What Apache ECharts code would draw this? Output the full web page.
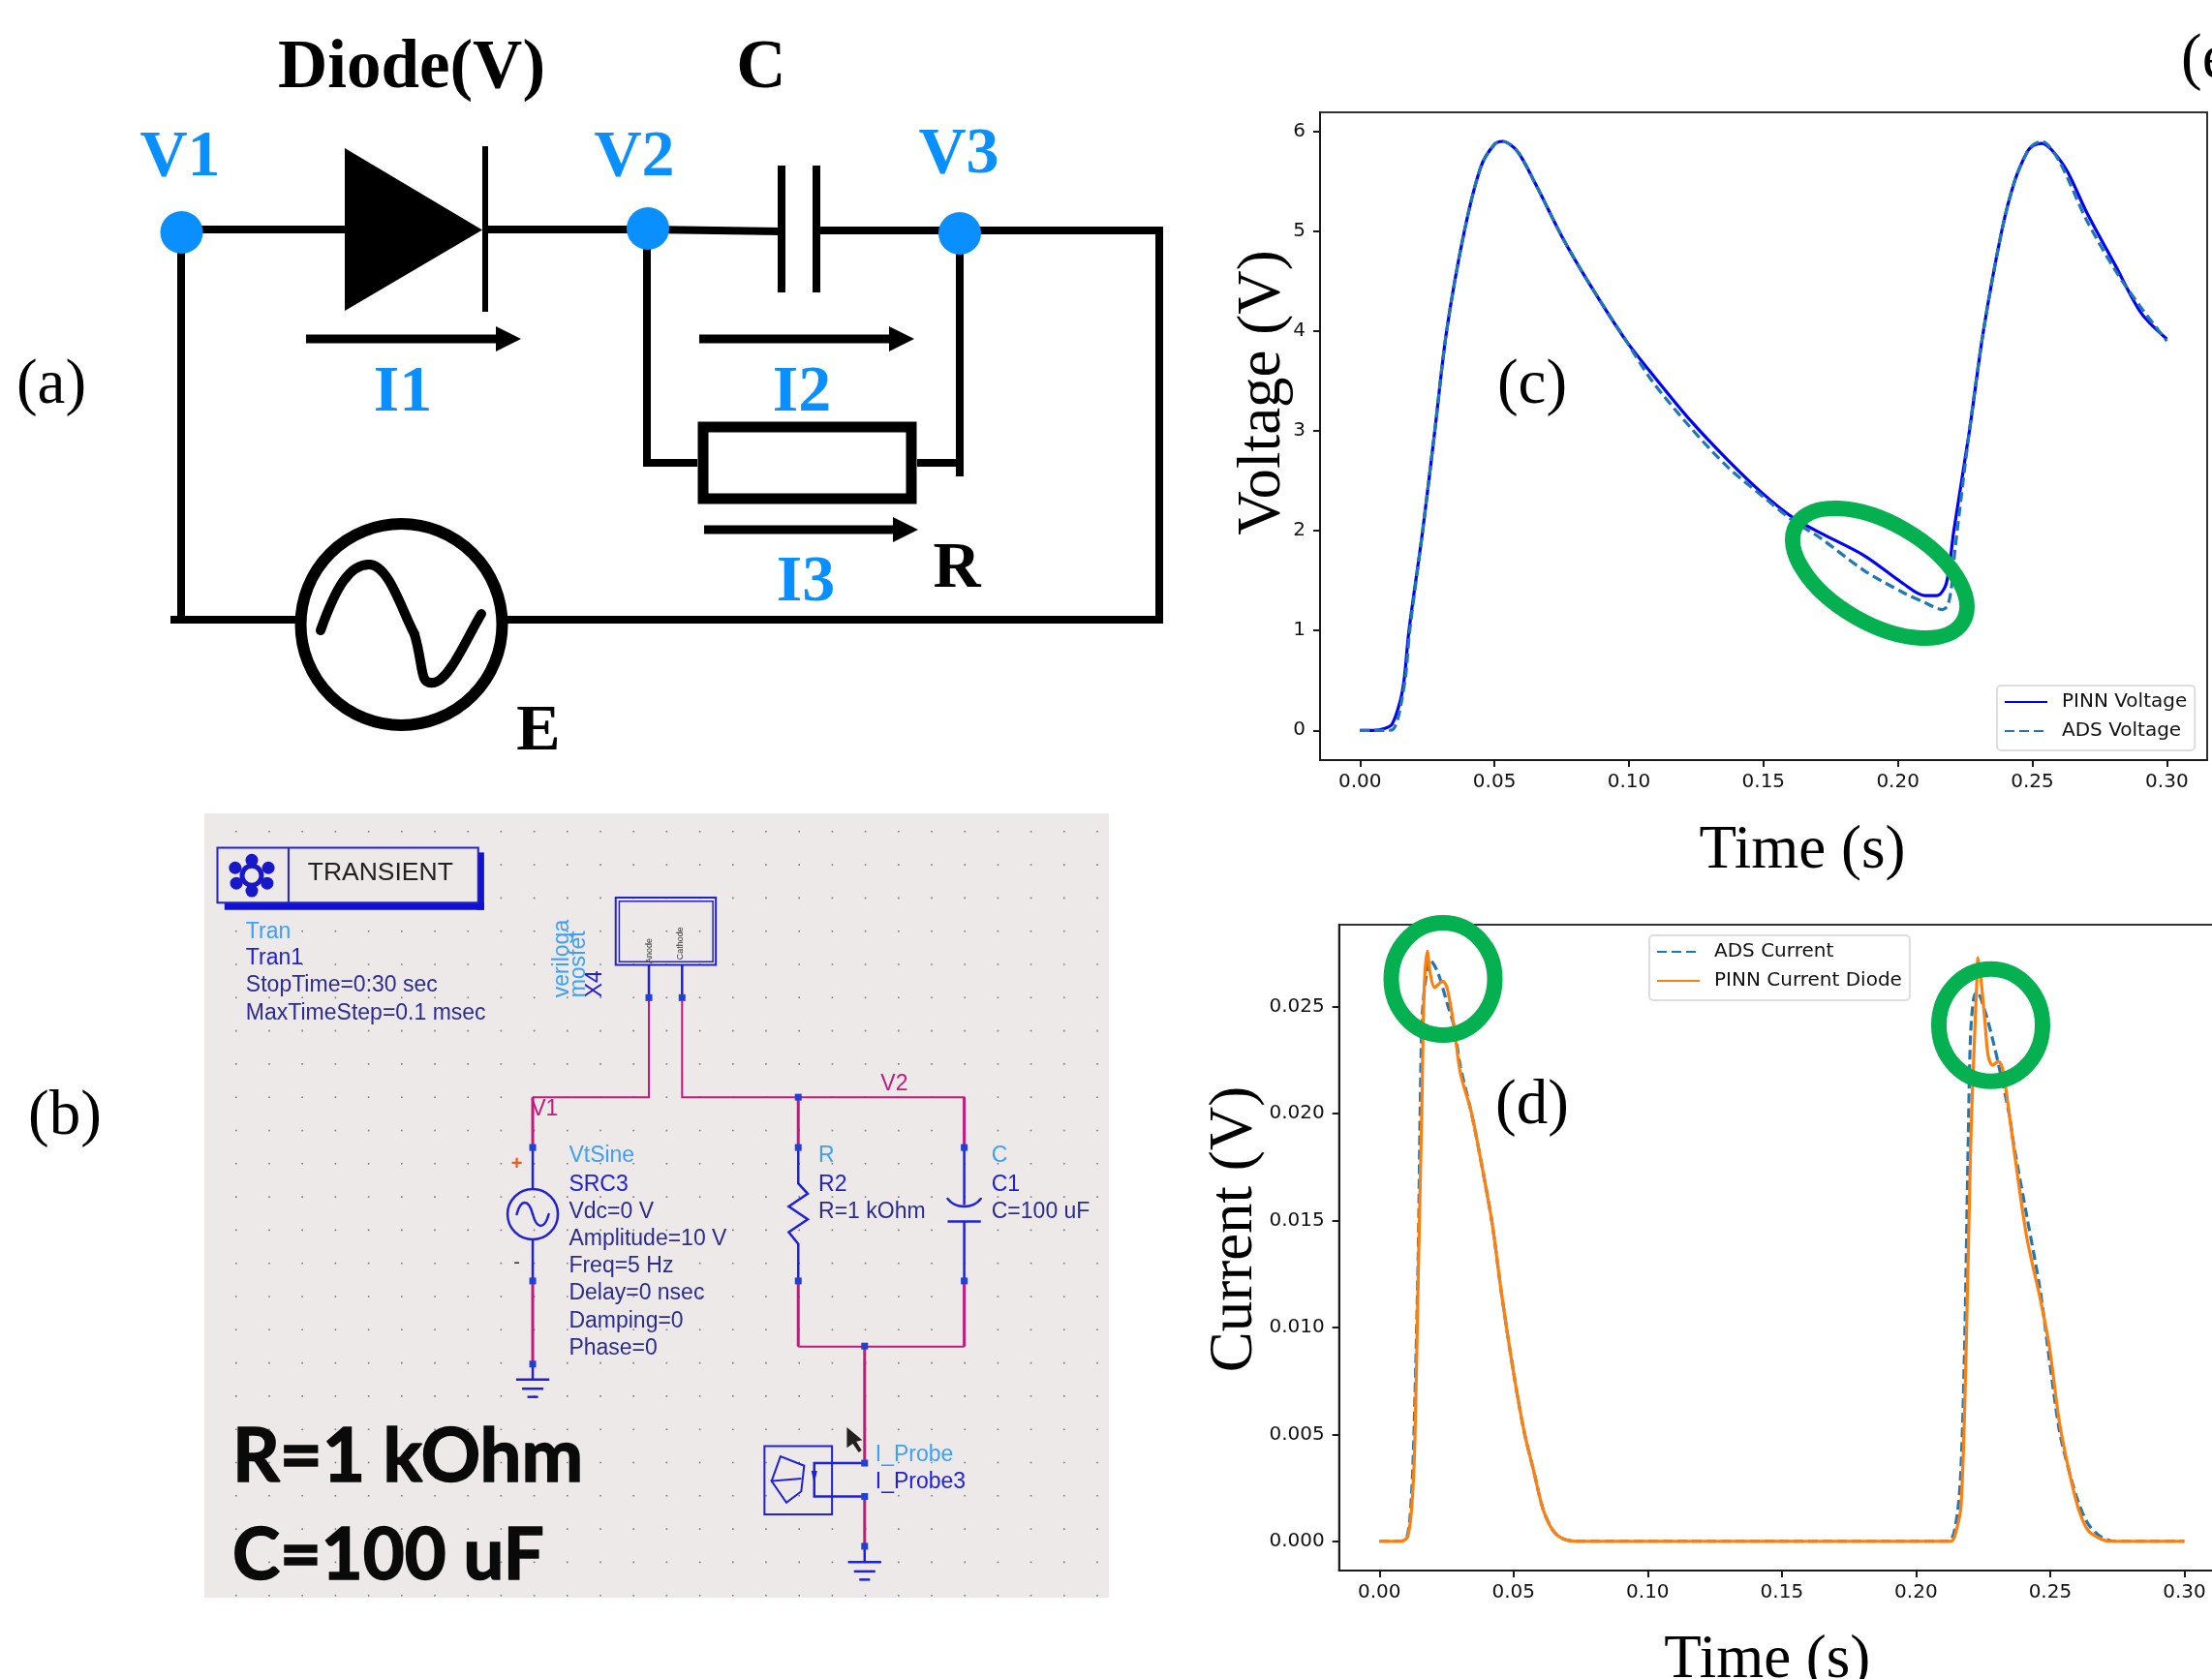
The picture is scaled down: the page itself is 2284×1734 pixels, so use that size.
<!DOCTYPE html>
<html><head><meta charset="utf-8">
<style>html,body{margin:0;padding:0;background:#fff}#c{width:2284px;height:1734px}</style>
<script src="https://cdn.jsdelivr.net/npm/echarts@6/dist/echarts.min.js"></script>
</head><body><div id="c"></div>
<script>
// ---- chart data ----
const xTicks = [0, 0.05, 0.10, 0.15, 0.20, 0.25, 0.30];
const voltageTicks = [0, 1, 2, 3, 4, 5, 6];
const currentTicks = [0, 0.005, 0.010, 0.015, 0.020, 0.025];

const pinnVoltageT = [0,0.005,0.0093,0.0119,0.015,0.0165,0.0182,0.0233,0.0278,0.0322,0.0388,0.045,0.05,0.053,0.0585,0.0655,0.075,0.0847,0.099,0.1086,0.123,0.137,0.149,0.161,0.171,0.1875,0.202,0.21,0.2145,0.218,0.2208,0.2266,0.2318,0.2386,0.2434,0.2482,0.2505,0.2535,0.257,0.263,0.27,0.281,0.2905,0.3];
const pinnVoltageV = [0,0,0.02,0.06,0.30,0.53,1,2,3,4,5,5.65,5.87,5.9,5.8,5.46,4.95,4.5,3.9,3.57,3.1,2.7,2.39,2.13,1.98,1.75,1.47,1.35,1.35,1.47,2,3,4,5,5.5,5.8,5.86,5.88,5.82,5.6,5.2,4.65,4.18,3.92];
const adsVoltageT = [0,0.005,0.0100,0.0123,0.014,0.0153,0.0170,0.0185,0.0233,0.0278,0.0322,0.0388,0.045,0.05,0.053,0.0585,0.0655,0.075,0.0847,0.099,0.1086,0.123,0.137,0.149,0.161,0.171,0.1875,0.202,0.21,0.2165,0.2185,0.22,0.2212,0.2266,0.2318,0.2386,0.2434,0.2482,0.2505,0.2535,0.26,0.27,0.281,0.29,0.3];
const adsVoltageV = [0,0,0,0.01,0.11,0.27,0.55,1,2,3,4,5,5.65,5.87,5.9,5.8,5.46,4.95,4.5,3.9,3.5,3.03,2.63,2.36,2.1,1.93,1.6,1.38,1.28,1.21,1.25,1.45,1.8,3,4,5,5.5,5.8,5.87,5.9,5.7,5.12,4.6,4.25,3.9];

const adsCurrentT = [0,0.008,0.0105,0.012,0.013,0.0145,0.0152,0.016,0.0175,0.0188,0.0218,0.0254,0.0278,0.0302,0.0342,0.038,0.042,0.0454,0.05,0.054,0.0575,0.061,0.0647,0.068,0.073,0.1,0.15,0.212,0.2145,0.2165,0.218,0.2194,0.2203,0.2215,0.2227,0.2257,0.2287,0.2311,0.2347,0.2365,0.2413,0.2462,0.2497,0.2534,0.257,0.2606,0.2642,0.269,0.274,0.3];
const adsCurrentI = [0,0,0.0003,0.0022,0.0055,0.0135,0.0201,0.0246,0.0265,0.0272,0.0266,0.0251,0.0241,0.0222,0.0201,0.0177,0.0149,0.0117,0.0079,0.0051,0.0033,0.0015,0.0005,0.00014,0,0,0,0,0.0006,0.0028,0.0085,0.0183,0.0236,0.0254,0.0257,0.0248,0.0234,0.0221,0.02,0.0185,0.0152,0.0118,0.0085,0.0052,0.0033,0.0018,0.0008,0.0002,0,0];
const pinnCurrentT = [0,0.008,0.0105,0.012,0.0132,0.0144,0.0158,0.01667,0.01786,0.01905,0.0206,0.0236,0.0252,0.0278,0.0302,0.0342,0.038,0.042,0.0454,0.05,0.054,0.0575,0.061,0.0647,0.068,0.073,0.1,0.15,0.213,0.215,0.2168,0.2185,0.2203,0.2211,0.2227,0.2231,0.2242,0.2257,0.2269,0.2285,0.2307,0.2322,0.234,0.2367,0.2413,0.2462,0.2497,0.2534,0.257,0.2606,0.2642,0.269,0.272,0.3];
const pinnCurrentI = [0,0,0.0002,0.0015,0.0045,0.0119,0.0201,0.0257,0.0276,0.0265,0.0259,0.0262,0.0259,0.0241,0.0219,0.0201,0.0177,0.0149,0.0117,0.0079,0.0051,0.0033,0.0015,0.0005,0.00014,0,0,0,0,0.0005,0.0017,0.008,0.0182,0.0213,0.0263,0.0273,0.0263,0.0243,0.0227,0.02227,0.02245,0.02213,0.0207,0.01815,0.0142,0.0114,0.0091,0.0056,0.0033,0.0015,0.0005,0.0001,0,0];

const zip = (a, b) => a.map((v, i) => [v, b[i]]);
const BLACK_AXIS = '#1a1a1a', TICK_FONT = 'DejaVu Sans', SERIF = 'Liberation Serif', SANS = 'Liberation Sans';
const BLUE_TXT = '#0a8fff', GREEN = '#05b050';

// ---- drawing helpers for the schematics ----
const gfx = [];
const S = (stroke, w, extra) => Object.assign({ stroke, lineWidth: w, fill: 'none' }, extra || {});
const poly = (pts, c, w, z) => gfx.push({ type: 'polyline', shape: { points: pts }, style: S(c, w, { lineJoin: 'miter' }), z: z || 10 });
const fillPoly = (pts, c) => gfx.push({ type: 'polygon', shape: { points: pts }, style: { fill: c }, z: 10 });
const dot = (x, y, r, c) => gfx.push({ type: 'circle', shape: { cx: x, cy: y, r }, style: { fill: c }, z: 12 });
const ring = (x, y, r, c, w) => gfx.push({ type: 'circle', shape: { cx: x, cy: y, r }, style: S(c, w, { fill: 'none' }), z: 11 });
const box = (x, y, w, h, st) => gfx.push({ type: 'rect', shape: { x, y, width: w, height: h }, style: st, z: 9 });
const bez = (p, c, w) => gfx.push({ type: 'bezierCurve', shape: { x1: p[0], y1: p[1], cpx1: p[2], cpy1: p[3], cpx2: p[4], cpy2: p[5], x2: p[6], y2: p[7] }, style: S(c, w, { lineCap: 'round' }), z: 11 });
const txt = (s, x, y, font, fill, align, rot, extra) => gfx.push({ type: 'text', x, y, rotation: rot || 0, z: 20,
  style: Object.assign({ text: s, font, fill, align: align || 'center', textAlign: align || 'center', verticalAlign: 'middle', textVerticalAlign: 'middle' }, extra || {}) });

// ---- panel (a): circuit ----
const W = '#000';
poly([[187, 237], [356, 237]], W, 8);
fillPoly([[356, 153], [356, 321], [498, 237.5]], W);
poly([[501, 151], [501, 322]], W, 6);
poly([[498, 237], [669, 237]], W, 8);
poly([[669, 237], [808, 239]], W, 8);
poly([[807, 171], [807, 302]], W, 8);
poly([[843, 171], [843, 302]], W, 8);
poly([[843, 238], [1197, 238]], W, 8);
poly([[1197, 234], [1197, 644]], W, 8);
poly([[176, 640], [305, 640]], W, 8);
poly([[524, 640], [1201, 640]], W, 8);
poly([[187, 240], [187, 640]], W, 8);
poly([[668, 237], [668, 478], [720, 478]], W, 8);
poly([[947, 478], [991, 478]], W, 8);
poly([[991, 241], [991, 492]], W, 8);
gfx.push({ type: 'rect', shape: { x: 726, y: 441, width: 215, height: 74 }, style: S(W, 11), z: 10 });
ring(414.5, 645, 104, W, 12);
bez([331, 651, 347, 606, 361, 583, 381, 583], W, 10);
bez([381, 583, 401, 583, 414, 628, 428, 655], W, 10);
bez([428, 655, 438, 690, 433, 707, 447, 705], W, 10);
bez([447, 705, 463, 705, 483, 657, 497, 634], W, 10);
dot(187.5, 240, 22, '#0a8fff'); dot(669, 236, 22, '#0a8fff'); dot(991, 241, 22, '#0a8fff');
const arrow = (x0, x1, y) => { poly([[x0, y], [x1 - 22, y]], W, 9); fillPoly([[x1 - 26, y - 13], [x1, y], [x1 - 26, y + 13]], W); };
arrow(316, 538, 350); arrow(722, 944, 350); arrow(727, 948, 547);
const BOLD68 = 'bold 68px "' + SERIF + '"';
txt('Diode(V)', 425, 72, 'bold 71px "' + SERIF + '"', '#000');
txt('C', 786, 72, 'bold 71px "' + SERIF + '"', '#000');
txt('V1', 186, 163, BOLD68, BLUE_TXT); txt('V2', 655, 163, BOLD68, BLUE_TXT); txt('V3', 990, 160, BOLD68, BLUE_TXT);
txt('I1', 416, 406, BOLD68, BLUE_TXT); txt('I2', 828, 406, BOLD68, BLUE_TXT); txt('I3', 832, 602, BOLD68, BLUE_TXT);
txt('R', 988, 588, BOLD68, '#000'); txt('E', 556, 756, BOLD68, '#000');
const PANEL = '65px "' + SERIF + '"';
txt('(a)', 53, 399, PANEL, '#000'); txt('(b)', 67, 1154, PANEL, '#000');
txt('(c)', 1582, 399, PANEL, '#000'); txt('(d)', 1582, 1143, PANEL, '#000');
txt('(e)', 2252, 63, PANEL, '#000', 'left');

// ---- panel (b): ADS schematic ----
const X = z => 200 + 0.612 * z, Y = z => 830 + 0.53 * z;
const P = (pts) => pts.map(p => [X(p[0]), Y(p[1])]);
const BL = '#2020d8', PK = '#c4187e', NAVY = '#2b2b90', LIGHT = '#3d9ff5';
const zpoly = (pts, c, w) => poly(P(pts), c, w || 2.5, 14);
box(211, 840, 934, 810, { fill: '#ede9e8' });
for (let gx = 243; gx < 1145; gx += 34.2) for (let gy = 858; gy < 1648; gy += 34.3) {
  gfx.push({ type: 'rect', shape: { x: gx, y: gy, width: 1.6, height: 1.6 }, style: { fill: '#77777c' }, z: 9 });
}
// transient block
const zbox = (x0, y0, x1, y1, st, z) => gfx.push({ type: 'rect', shape: { x: X(x0), y: Y(y0), width: X(x1) - X(x0), height: Y(y1) - Y(y0) }, style: st, z: z || 13 });
zbox(52, 193, 490, 207, { fill: '#1010d0' }); zbox(478, 95, 490, 207, { fill: '#1010d0' });
zbox(40, 86, 480, 193, { fill: '#ede9e8', stroke: BL, lineWidth: 2 });
zpoly([[160, 86], [160, 193]], BL, 2);
txt('TRANSIENT', X(315), Y(135), '26.5px "' + SANS + '"', '#222');
[[98, 110], [70, 125], [126, 125], [72, 155], [124, 155], [98, 170]].forEach(c => dot(X(c[0]), Y(c[1]), 6.5, '#1818c8'));
ring(X(98), Y(140), 10, '#1818c8', 5);
gfx.slice(-7).forEach(e => e.z = 15);
const SMALL = '23px "' + SANS + '"';
txt('Tran', X(88), Y(250), SMALL, LIGHT, 'left'); txt('Tran1', X(88), Y(302), SMALL, BL, 'left');
txt('StopTime=0:30 sec', X(88), Y(355), SMALL, NAVY, 'left'); txt('MaxTimeStep=0.1 msec', X(88), Y(408), SMALL, NAVY, 'left');
// device
zbox(712, 183, 881, 314, { fill: 'none', stroke: BL, lineWidth: 2 });
zbox(718, 190, 876, 308, { fill: 'none', stroke: BL, lineWidth: 1.5 });
txt('Anode', X(768), Y(287), '9px "' + SANS + '"', '#333', 'center', Math.PI / 2);
txt('Cathode', X(821), Y(272), '9px "' + SANS + '"', '#333', 'center', Math.PI / 2);
txt('veriloga', X(622), Y(378), SMALL, LIGHT, 'left', Math.PI / 2);
txt('mosfet', X(650), Y(378), SMALL, LIGHT, 'left', Math.PI / 2);
txt('X4', X(677), Y(378), SMALL, BL, 'left', Math.PI / 2);
zpoly([[768, 314], [768, 378]], BL); zpoly([[824, 314], [824, 378]], BL);
zpoly([[768, 378], [768, 572], [572, 572]], PK, 2);
zpoly([[572, 572], [572, 665]], PK, 3);
zpoly([[824, 378], [824, 572], [1300, 572]], PK, 2);
zpoly([[1300, 572], [1300, 665]], PK, 3);
zpoly([[1020, 572], [1020, 665]], PK, 3);
txt('V1', X(592), Y(595), SMALL, PK); txt('V2', X(1182), Y(547), SMALL, PK);
// source
zpoly([[572, 665], [572, 750]], BL); ring(X(572), Y(800), 26, BL, 2.5); zpoly([[572, 850], [572, 930]], BL);
bez([X(545), Y(800), X(552), Y(770), X(565), Y(770), X(572), Y(800)], BL, 2.5);
bez([X(572), Y(800), X(579), Y(830), X(592), Y(830), X(599), Y(800)], BL, 2.5);
zpoly([[572, 930], [572, 1092]], PK, 3); zpoly([[572, 1092], [572, 1122]], BL);
const ground = (x, y) => { zpoly([[x - 28, y], [x + 28, y]], BL); zpoly([[x - 18, y + 18], [x + 18, y + 18]], BL); zpoly([[x - 9, y + 34], [x + 9, y + 34]], BL); };
ground(572, 1122);
txt('+', X(545), Y(702), 'bold 20px "' + SANS + '"', '#f05a1e'); txt('-', X(545), Y(895), '20px "' + SANS + '"', '#333');
['VtSine', 'SRC3', 'Vdc=0 V', 'Amplitude=10 V', 'Freq=5 Hz', 'Delay=0 nsec', 'Damping=0', 'Phase=0'].forEach((s, i) => {
  txt(s, X(633), Y([687, 743, 796, 849, 902, 955, 1008, 1061][i]), SMALL, i === 0 ? LIGHT : i === 1 ? BL : NAVY, 'left');
});
// resistor
zpoly([[1020, 665], [1020, 740], [1036, 760], [1004, 785], [1036, 810], [1004, 835], [1020, 858], [1020, 930]], BL);
zpoly([[1020, 930], [1020, 1058]], PK, 3);
zpoly([[1020, 1058], [1300, 1058]], PK, 2);
zpoly([[1300, 1058], [1300, 930]], PK, 3);
txt('R', X(1054), Y(687), SMALL, LIGHT, 'left'); txt('R2', X(1054), Y(742), SMALL, BL, 'left'); txt('R=1 kOhm', X(1054), Y(796), SMALL, NAVY, 'left');
// capacitor
zpoly([[1300, 665], [1300, 782]], BL);
bez([X(1272), Y(770), X(1285), Y(790), X(1315), Y(790), X(1328), Y(770)], BL, 2.5);
zpoly([[1272, 814], [1328, 814]], BL); zpoly([[1300, 814], [1300, 930]], BL);
txt('C', X(1346), Y(687), SMALL, LIGHT, 'left'); txt('C1', X(1346), Y(742), SMALL, BL, 'left'); txt('C=100 uF', X(1346), Y(796), SMALL, NAVY, 'left');
// probe
zpoly([[1132, 1058], [1132, 1285]], PK, 3); zpoly([[1132, 1350], [1132, 1447]], PK, 3); zpoly([[1132, 1447], [1132, 1478]], BL);
zbox(963, 1252, 1077, 1385, { fill: 'none', stroke: BL, lineWidth: 2 });
zpoly([[1132, 1285], [1047, 1285], [1047, 1350], [1132, 1350]], BL);
zpoly([[975, 1320], [990, 1272], [1030, 1290], [1025, 1340], [1000, 1362], [975, 1320], [1025, 1315]], BL, 2);
fillPoly(P([[1042, 1300], [1052, 1300], [1047, 1325]]), BL); gfx[gfx.length - 1].z = 15;
ground(1132, 1478);
txt('I_Probe', X(1150), Y(1269), SMALL, LIGHT, 'left'); txt('I_Probe3', X(1150), Y(1322), SMALL, BL, 'left');
[[572, 670], [572, 930], [1020, 670], [1020, 930], [1300, 670], [1300, 930], [572, 1092], [1132, 1285], [1132, 1350], [1132, 1447], [768, 378], [824, 378], [1020, 572], [1132, 1057]].forEach(p => {
  gfx.push({ type: 'rect', shape: { x: X(p[0]) - 3.5, y: Y(p[1]) - 3.5, width: 7, height: 7 }, style: { fill: '#2040d8' }, z: 16 });
});
fillPoly(P([[1102, 1215], [1102, 1255], [1112, 1247], [1122, 1264], [1127, 1260], [1118, 1243], [1128, 1240]]), '#222'); gfx[gfx.length - 1].z = 16;
const HEAVY = { stroke: '#0a0a0a', lineWidth: 1.6 };
txt('R=1 kOhm', 240, 1505, 'bold 76px "Lato"', '#0a0a0a', 'left', 0, HEAVY);
txt('C=100 uF', 240, 1607, 'bold 74px "Lato"', '#0a0a0a', 'left', 0, HEAVY);

// ---- green highlight rings over the plots ----
const greenEllipse = (cx, cy, a, b, rot) => gfx.push({ type: 'ellipse', x: cx, y: cy, rotation: rot, z: 30, shape: { cx: 0, cy: 0, rx: a, ry: b }, style: { fill: 'none', stroke: GREEN, lineWidth: 16 } });
greenEllipse(1941, 592, 99.5, 51.8, -Math.PI / 6);
greenEllipse(1490, 1011, 53.5, 58, 0);
greenEllipse(2055.5, 1058.7, 53.5, 58, 0);

// ---- axes ----
const xAxisOf = (gi, min, max, name, gap, pad) => ({
  gridIndex: gi, type: 'value', min, max, name, nameLocation: 'middle', nameGap: gap, nameMoveOverlap: false,
  nameTextStyle: { fontFamily: SERIF, fontSize: 63, color: '#000', padding: pad },
  axisLine: { onZero: false, lineStyle: { color: BLACK_AXIS, width: 2 } },
  axisTick: { length: 7, customValues: xTicks, lineStyle: { color: BLACK_AXIS, width: 2 } },
  axisLabel: { customValues: xTicks, margin: 13, fontFamily: TICK_FONT, fontSize: 20, color: '#111', formatter: v => v.toFixed(2) },
  splitLine: { show: false }
});
const yAxisOf = (gi, min, max, name, ticks, dec, gap, pad) => ({
  gridIndex: gi, type: 'value', min, max, name, nameLocation: 'middle', nameGap: gap, nameRotate: 90, nameMoveOverlap: false,
  nameTextStyle: { fontFamily: SERIF, fontSize: 63, color: '#000', padding: pad },
  axisLine: { onZero: false, lineStyle: { color: BLACK_AXIS, width: 2 } },
  axisTick: { length: 7, customValues: ticks, lineStyle: { color: BLACK_AXIS, width: 2 } },
  axisLabel: { customValues: ticks, margin: 15, fontFamily: TICK_FONT, fontSize: 20, color: '#111', formatter: v => v.toFixed(dec) },
  splitLine: { show: false }
});
const lineSeries = (name, gi, data, color, type) => ({
  name, type: 'line', xAxisIndex: gi, yAxisIndex: gi, data, showSymbol: false, symbol: 'none', smooth: 0.3,
  lineStyle: { color, width: 3.2, type: type === 'dashed' ? [10, 5] : 'solid' }, itemStyle: { color }, silent: true, animation: false, clip: false
});
const legendOf = (left, top, names) => ({
  left, top, data: names, orient: 'vertical', align: 'left', itemWidth: 44, itemHeight: 12, itemGap: 10, padding: [7, 8, 10, 7],
  backgroundColor: '#fff', borderColor: '#dddddd', borderWidth: 2, borderRadius: 4, z: 25,
  itemStyle: { opacity: 0 },
  textStyle: { fontFamily: TICK_FONT, fontSize: 20, color: '#111', lineHeight: 20, padding: [0, 0, 0, 10] }
});

const chart = echarts.init(document.getElementById('c'), null, { renderer: 'canvas', width: 2284, height: 1734 });
chart.setOption({
  animation: false,
  backgroundColor: '#fff',
  grid: [
    { left: 1363, top: 116, width: 916, height: 669, show: true, borderColor: '#333', borderWidth: 2, backgroundColor: 'transparent', containLabel: false, outerBoundsMode: 'none' },
    { left: 1382.7, top: 955, width: 914.3, height: 667, show: true, borderColor: '#333', borderWidth: 2, backgroundColor: 'transparent', containLabel: false, outerBoundsMode: 'none' }
  ],
  xAxis: [
    xAxisOf(0, -0.01487, 0.315, 'Time (s)', 63, [0, 0, 0, 80]),
    xAxisOf(1, -0.015, 0.315, 'Time (s)', 62, [0, 30, 0, 0])
  ],
  yAxis: [
    yAxisOf(0, -0.298, 6.191, 'Voltage (V)', voltageTicks, 0, 27, [0, 0, 0, 90]),
    yAxisOf(1, -0.00137, 0.02884, 'Current (V)', currentTicks, 3, 76, [0, 0, 0, 38])
  ],
  legend: [
    legendOf(2062, 708, ['PINN Voltage', 'ADS Voltage']),
    legendOf(1703, 966, ['ADS Current', 'PINN Current Diode'])
  ],
  series: [
    lineSeries('PINN Voltage', 0, zip(pinnVoltageT, pinnVoltageV), '#0000ff', 'solid'),
    lineSeries('ADS Voltage', 0, zip(adsVoltageT, adsVoltageV), '#1f77b4', 'dashed'),
    lineSeries('ADS Current', 1, zip(adsCurrentT, adsCurrentI), '#1f77b4', 'dashed'),
    lineSeries('PINN Current Diode', 1, zip(pinnCurrentT, pinnCurrentI), '#ff7f0e', 'solid')
  ],
  graphic: { elements: gfx }
});
</script></body></html>
